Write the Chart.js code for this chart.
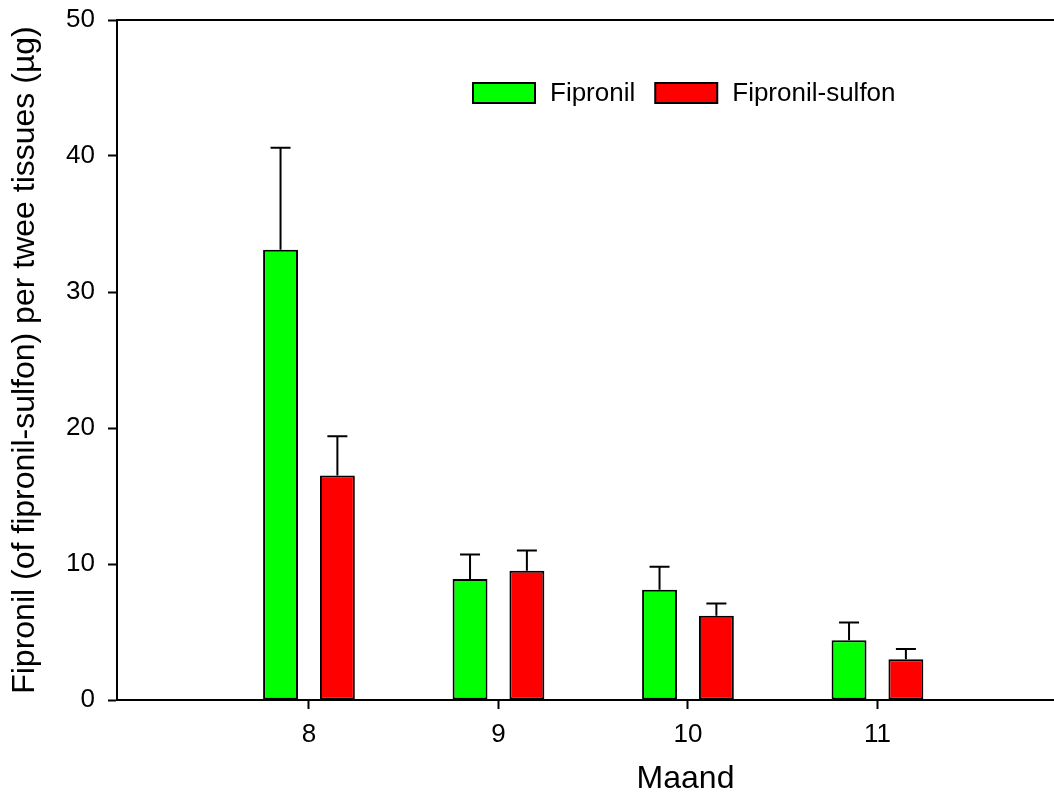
<!DOCTYPE html>
<html>
<head>
<meta charset="utf-8">
<script src="https://cdn.jsdelivr.net/npm/chart.js@4.4.1/dist/chart.umd.min.js"></script>
<style>
  html, body { margin: 0; padding: 0; background: #fff; overflow: hidden; }
  #wrap { width: 1254px; height: 800px; }
</style>
</head>
<body>
<div id="wrap"><canvas id="chart" width="1254" height="800"></canvas></div>
<script>
const months = [8, 9, 10, 11];
const fipronil = [33.1, 8.9, 8.1, 4.4];
const fipronilErr = [7.5, 1.8, 1.7, 1.3];
const sulfon = [16.5, 9.5, 6.2, 3.0];
const sulfonErr = [2.9, 1.5, 0.9, 0.75];
const yTicks = [0, 10, 20, 30, 40, 50];

const FONT = "'Liberation Sans', Arial, sans-serif";

// upward error bars with a cap
const errorBars = {
  id: "errorBars",
  afterDatasetsDraw(chart) {
    const ctx = chart.ctx;
    const yScale = chart.scales.y;
    chart.data.datasets.forEach((ds, i) => {
      const meta = chart.getDatasetMeta(i);
      meta.data.forEach((bar, j) => {
        const top = yScale.getPixelForValue(ds.data[j].y + ds.err[j]);
        ctx.save();
        ctx.strokeStyle = "#000";
        ctx.lineWidth = 2;
        ctx.beginPath();
        ctx.moveTo(bar.x, bar.y);
        ctx.lineTo(bar.x, top);
        ctx.moveTo(bar.x - 10, top);
        ctx.lineTo(bar.x + 10, top);
        ctx.stroke();
        ctx.restore();
      });
    });
  }
};

// top frame line + legend inside the plot
const frameAndLegend = {
  id: "frameAndLegend",
  afterDraw(chart) {
    const ctx = chart.ctx;
    const area = chart.chartArea;
    ctx.save();
    ctx.strokeStyle = "#000";
    ctx.lineWidth = 2;
    ctx.beginPath();
    ctx.moveTo(area.left - 1, area.top);
    ctx.lineTo(area.right, area.top);
    ctx.stroke();

    let x = 473;
    const y = 83;
    ctx.font = "26px " + FONT;
    ctx.textBaseline = "middle";
    chart.data.datasets.forEach((ds) => {
      ctx.fillStyle = ds.backgroundColor;
      ctx.fillRect(x, y, 62, 20);
      ctx.strokeRect(x, y, 62, 20);
      ctx.fillStyle = "#000";
      ctx.fillText(ds.label, x + 77, y + 11);
      x += 77 + ctx.measureText(ds.label).width + 20;
    });
    ctx.restore();
  }
};

new Chart(document.getElementById("chart"), {
  type: "bar",
  data: {
    datasets: [
      {
        label: "Fipronil",
        data: months.map((m, i) => ({ x: m, y: fipronil[i] })),
        err: fipronilErr,
        backgroundColor: "#00ff00",
        borderColor: "#000",
        borderWidth: 2,
        borderSkipped: false
      },
      {
        label: "Fipronil-sulfon",
        data: months.map((m, i) => ({ x: m, y: sulfon[i] })),
        err: sulfonErr,
        backgroundColor: "#ff0000",
        borderColor: "#000",
        borderWidth: 2,
        borderSkipped: false
      }
    ]
  },
  options: {
    responsive: false,
    animation: false,
    layout: { padding: { top: 20, right: 0, left: 0, bottom: 0 } },
    categoryPercentage: 0.6,
    barPercentage: 0.614,
    plugins: {
      legend: { display: false },
      tooltip: { enabled: false }
    },
    scales: {
      x: {
        type: "linear",
        offset: false,
        min: 6.987,
        max: 12.987,
        afterBuildTicks(scale) {
          scale.ticks = months.map((m) => ({ value: m }));
        },
        afterFit(scale) { scale.height = 100; },
        grid: {
          offset: false,
          drawOnChartArea: false,
          tickLength: 9,
          tickColor: "#000",
          tickWidth: 2
        },
        border: { color: "#000", width: 2 },
        ticks: {
          color: "#000",
          font: { family: FONT, size: 26 },
          padding: 10,
          maxRotation: 0
        },
        title: {
          display: true,
          text: "Maand",
          color: "#000",
          font: { family: FONT, size: 32 },
          padding: { top: 10, bottom: 2 }
        }
      },
      y: {
        min: 0,
        max: 50,
        afterBuildTicks(scale) {
          scale.ticks = yTicks.map((v) => ({ value: v }));
        },
        afterFit(scale) {
          scale.width = 117;
          scale.paddingTop = 0;
          scale.paddingBottom = 0;
        },
        grid: {
          drawOnChartArea: false,
          tickLength: 9,
          tickColor: "#000",
          tickWidth: 2
        },
        border: { color: "#000", width: 2 },
        ticks: {
          color: "#000",
          font: { family: FONT, size: 26 },
          padding: 13
        },
        title: {
          display: true,
          text: "Fipronil (of fipronil-sulfon) per twee tissues (µg)",
          color: "#000",
          font: { family: FONT, size: 32 },
          padding: { top: 6, bottom: 0 }
        }
      }
    }
  },
  plugins: [errorBars, frameAndLegend]
});
</script>
</body>
</html>
